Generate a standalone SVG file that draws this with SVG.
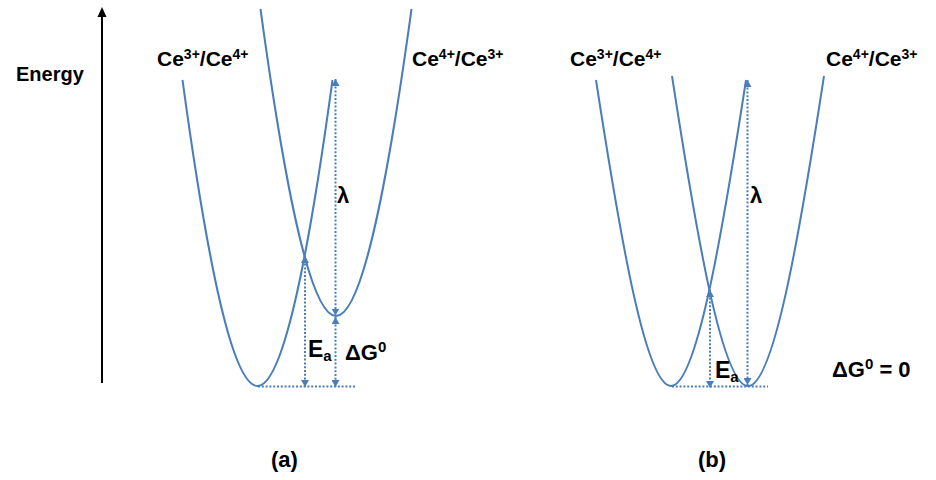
<svg xmlns="http://www.w3.org/2000/svg" width="936" height="480" viewBox="0 0 936 480">
<style>
.curve{fill:none;stroke:#4A7EBB;stroke-width:2}
.dot{fill:none;stroke:#4A7EBB;stroke-width:2;stroke-dasharray:2 1.8;marker-start:url(#ah);marker-end:url(#ah)}
.hdot{fill:none;stroke:#4A7EBB;stroke-width:2;stroke-dasharray:2 1.8}
text{font-family:"Liberation Sans",Arial,sans-serif;font-weight:bold;fill:#000}
.lbl{font-size:20px}
.ce{font-size:21px}
.sup{font-size:14px}
</style>
<defs>
<marker id="ah" viewBox="0 0 7 8" refX="7" refY="4" markerWidth="7" markerHeight="8" markerUnits="userSpaceOnUse" orient="auto-start-reverse">
<path d="M0,0 L7,4 L0,8 z" fill="#4A7EBB"/>
</marker>
</defs>
<rect width="936" height="480" fill="#fff"/>
<g id="axis">
<line x1="102" y1="383" x2="102" y2="15" stroke="#000" stroke-width="2"/>
<polygon points="97.5,17 102,7 106.5,17" fill="#000"/>
<text class="lbl" x="16" y="81">Energy</text>
</g>
<g id="curve-a-left">
<path class="curve" d="M182.5,80 C207.5,263.6 232.5,386 257.5,386 C282.5,386 307.5,263.6 332.5,80"/>
<text class="ce" x="157" y="66">Ce<tspan class="sup" dy="-7">3+</tspan><tspan dy="7">/Ce</tspan><tspan class="sup" dy="-7">4+</tspan></text>
</g>
<g id="curve-a-right">
<path class="curve" d="M260.5,9 C285.7,193.2 310.8,316 336,316 C361.2,316 386.3,193.2 411.5,9"/>
<text class="ce" x="412" y="66">Ce<tspan class="sup" dy="-7">4+</tspan><tspan dy="7">/Ce</tspan><tspan class="sup" dy="-7">3+</tspan></text>
</g>
<g id="curve-b-left">
<path class="curve" d="M596,80 C621,242.2 646,386 671,386 C696,386 721,242.2 746,80"/>
<text class="ce" x="570" y="66">Ce<tspan class="sup" dy="-7">3+</tspan><tspan dy="7">/Ce</tspan><tspan class="sup" dy="-7">4+</tspan></text>
</g>
<g id="curve-b-right">
<path class="curve" d="M672,76 C697.3,240.3 722.7,386 748,386 C773.3,386 798.7,240.3 824,76"/>
<text class="ce" x="826" y="66">Ce<tspan class="sup" dy="-7">4+</tspan><tspan dy="7">/Ce</tspan><tspan class="sup" dy="-7">3+</tspan></text>
</g>
<g id="connectors">
<line class="hdot" x1="258" y1="386.5" x2="356" y2="386.5"/>
<line class="dot" x1="305" y1="256" x2="305" y2="387"/>
<line class="dot" x1="335.5" y1="79" x2="335.5" y2="315.5"/>
<line class="dot" x1="335.5" y1="317" x2="335.5" y2="387"/>
<line class="hdot" x1="672" y1="386.5" x2="768" y2="386.5"/>
<line class="dot" x1="710" y1="290" x2="710" y2="388"/>
<line class="dot" x1="747.5" y1="80" x2="747.5" y2="385"/>
</g>
<g id="labels-a">
<text x="337" y="203" font-size="22">λ</text>
<text x="308" y="357" font-size="23">E<tspan font-size="15" dy="4">a</tspan></text>
<text x="345" y="360" font-size="22">ΔG<tspan font-size="15" dy="-8">0</tspan></text>
<text x="271" y="467" font-size="22">(a)</text>
</g>
<g id="labels-b">
<text x="750" y="203" font-size="22">λ</text>
<text x="715" y="378" font-size="23">E<tspan font-size="15" dy="4">a</tspan></text>
<text x="832" y="377" font-size="22">ΔG<tspan font-size="15" dy="-8">0</tspan><tspan dy="8"> = 0</tspan></text>
<text x="698" y="467" font-size="22">(b)</text>
</g>
</svg>
